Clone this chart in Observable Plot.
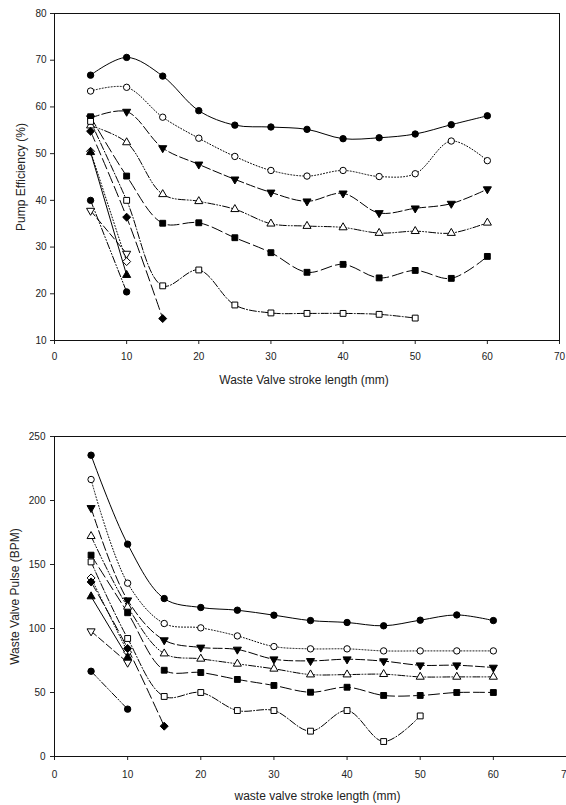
<!DOCTYPE html>
<html>
<head>
<meta charset="utf-8">
<script src="https://cdn.jsdelivr.net/npm/d3@7"></script>
<script src="https://cdn.jsdelivr.net/npm/@observablehq/plot@0.6"></script>
<style>
  html, body { margin: 0; padding: 0; background: #fff; }
  body { width: 566px; height: 805px; position: relative; overflow: hidden; font-family: "Liberation Sans", Arial, sans-serif; }
  #top, #bottom { position: absolute; left: 0; }
  #top { top: 0; }
  #bottom { top: 400px; }
</style>
</head>
<body>
<div id="top"></div>
<div id="bottom"></div>
<script>
// ---------- data ----------
const strokeLength = [5, 10, 15, 20, 25, 30, 35, 40, 45, 50, 55, 60];
const xTicks = [0, 10, 20, 30, 40, 50, 60, 70];
const effTicks = [10, 20, 30, 40, 50, 60, 70, 80];
const bpmTicks = [0, 50, 100, 150, 200, 250];

// Pump efficiency (%)
const effFilledCircle = [66.8, 70.6, 66.6, 59.2, 56.1, 55.7, 55.2, 53.2, 53.4, 54.2, 56.2, 58.1];
const effOpenCircle   = [63.4, 64.2, 57.8, 53.3, 49.4, 46.4, 45.2, 46.4, 45.1, 45.7, 52.7, 48.5];
const effFilledDown   = [57.6, 59.0, 51.2, 47.7, 44.5, 41.7, 39.8, 41.5, 37.3, 38.3, 39.3, 42.4];
const effOpenUp       = [56.0, 52.4, 41.3, 39.8, 38.1, 35.0, 34.5, 34.2, 33.0, 33.4, 33.0, 35.2];
const effFilledSquare = [57.9, 45.2, 35.1, 35.2, 32.0, 28.8, 24.6, 26.3, 23.4, 25.0, 23.3, 28.0];
const effOpenSquare   = [56.9, 40.0, 21.7, 25.1, 17.6, 15.9, 15.8, 15.8, 15.6, 14.8];
const effFilledCircle2 = [40.0, 20.4];
const effOpenDown      = [37.8, 28.6];
const effOpenDiamond   = [50.5, 26.9];
const effFilledUp      = [50.3, 24.0];
const effFilledDiamond = [54.8, 36.4, 14.7];

// Waste valve pulse (BPM)
const bpmFilledCircle = [235.4, 165.9, 123.4, 116.4, 114.3, 110.4, 106.2, 104.7, 102.1, 106.5, 110.6, 106.2];
const bpmOpenCircle   = [216.4, 135.4, 103.9, 100.5, 94.2, 85.9, 84.1, 84.1, 82.5, 82.5, 82.5, 82.5];
const bpmFilledDown   = [194.2, 122.1, 90.9, 85.2, 83.6, 76.0, 74.7, 76.0, 74.5, 71.3, 71.3, 69.5];
const bpmOpenUp       = [172.1, 116.9, 80.4, 76.3, 72.4, 68.5, 64.0, 64.0, 64.3, 62.2, 62.2, 62.2];
const bpmFilledSquare = [157.3, 112.3, 67.4, 65.6, 60.2, 55.5, 50.2, 54.1, 47.7, 47.7, 50.0, 50.0];
const bpmOpenSquare   = [152.0, 92.2, 46.9, 50.0, 35.9, 35.9, 19.8, 35.9, 11.7, 31.7];
const bpmFilledCircle2 = [66.6, 37.0];
const bpmOpenDown      = [97.9, 73.4];
const bpmFilledUp      = [125.0, 77.5];
const bpmOpenDiamond   = [139.5, 81.5];
const bpmFilledDiamond = [136.4, 84.4, 23.7];

// ---------- styles ----------
const S = {
  filledCircle:  {symbol: "circle",   fill: "#000", r: 3.2, rotate: 0,   dash: null},
  openCircle:    {symbol: "circle",   fill: "#fff", r: 3.2, rotate: 0,   dash: "1,2"},
  filledDown:    {symbol: "triangle", fill: "#000", r: 3.0, rotate: 180, dash: "9,3"},
  openUp:        {symbol: "triangle", fill: "#fff", r: 3.0, rotate: 0,   dash: "7,2,1,2,1,2"},
  filledSquare:  {symbol: "square",   fill: "#000", r: 3.3, rotate: 0,   dash: "11,4"},
  openSquare:    {symbol: "square",   fill: "#fff", r: 3.3, rotate: 0,   dash: "7,2,1,2"},
  filledCircle2: {symbol: "circle",   fill: "#000", r: 3.2, rotate: 0,   dash: "7,2,1,2,1,2"},
  openDown:      {symbol: "triangle", fill: "#fff", r: 3.0, rotate: 180, dash: "7,3"},
  openDiamond:   {symbol: "diamond2", fill: "#fff", r: 3.6, rotate: 0,   dash: "1,2"},
  filledUp:      {symbol: "triangle", fill: "#000", r: 3.0, rotate: 0,   dash: null},
  filledDiamond: {symbol: "diamond2", fill: "#000", r: 3.6, rotate: 0,   dash: "11,4"}
};

const effSeries = [
  ["filledCircle", effFilledCircle], ["openCircle", effOpenCircle], ["filledDown", effFilledDown],
  ["openUp", effOpenUp], ["filledSquare", effFilledSquare], ["openSquare", effOpenSquare],
  ["filledCircle2", effFilledCircle2], ["openDown", effOpenDown], ["openDiamond", effOpenDiamond],
  ["filledUp", effFilledUp], ["filledDiamond", effFilledDiamond]
];
const bpmSeries = [
  ["filledCircle", bpmFilledCircle], ["openCircle", bpmOpenCircle], ["filledDown", bpmFilledDown],
  ["openUp", bpmOpenUp], ["filledSquare", bpmFilledSquare], ["openSquare", bpmOpenSquare],
  ["filledCircle2", bpmFilledCircle2], ["openDown", bpmOpenDown], ["openDiamond", bpmOpenDiamond],
  ["filledUp", bpmFilledUp], ["filledDiamond", bpmFilledDiamond]
];

function seriesMarks(series) {
  const lines = [], dots = [];
  for (const [key, vals] of series) {
    const st = S[key];
    const data = vals.map((v, i) => ({x: strokeLength[i], y: v}));
    lines.push(Plot.line(data, {x: "x", y: "y", stroke: "#000", strokeWidth: 1,
      strokeDasharray: st.dash || undefined, curve: "catmull-rom"}));
    dots.push(Plot.dot(data, {x: "x", y: "y", symbol: st.symbol, r: st.r, fill: st.fill,
      stroke: "#000", strokeWidth: 1, rotate: st.rotate}));
  }
  return [...lines, ...dots];
}

const baseStyle = {fontFamily: "'Liberation Sans', Arial, sans-serif", fontSize: "10px",
  color: "#222", background: "transparent", overflow: "visible"};

const topChart = Plot.plot({
  width: 566, height: 395,
  marginTop: 13, marginBottom: 55, marginLeft: 54, marginRight: 7,
  style: baseStyle,
  x: {domain: [0, 70], ticks: xTicks, tickSize: 4, tickPadding: 8, label: null, tickFormat: d => String(d)},
  y: {domain: [10, 80], ticks: effTicks, tickSize: 4, tickPadding: 4, label: null, tickFormat: d => String(d)},
  marks: [
    Plot.frame({stroke: "#111", strokeWidth: 1}),
    ...seriesMarks(effSeries),
    Plot.text(["Waste Valve stroke length (mm)"], {frameAnchor: "bottom", dy: 40, dx: -3,
      fontSize: 12, fill: "#222", lineAnchor: "middle", textAnchor: "middle"}),
    Plot.text(["Pump Efficiency (%)"], {frameAnchor: "left", dx: -33, rotate: -90,
      fontSize: 12, fill: "#222", lineAnchor: "middle", textAnchor: "middle"})
  ]
});
document.getElementById("top").appendChild(topChart);

const bottomChart = Plot.plot({
  width: 566, height: 405,
  marginTop: 36, marginBottom: 49, marginLeft: 54, marginRight: 0,
  style: baseStyle,
  x: {domain: [0, 70], ticks: xTicks, tickSize: 4, tickPadding: 10, label: null, tickFormat: d => String(d)},
  y: {domain: [0, 250], ticks: bpmTicks, tickSize: 4, tickPadding: 5, label: null, tickFormat: d => String(d)},
  marks: [
    Plot.frame({stroke: "#111", strokeWidth: 1}),
    ...seriesMarks(bpmSeries),
    Plot.text(["waste valve stroke length (mm)"], {frameAnchor: "bottom", dy: 40, dx: 7,
      fontSize: 12, fill: "#222", lineAnchor: "middle", textAnchor: "middle"}),
    Plot.text(["Waste Valve Pulse (BPM)"], {frameAnchor: "left", dx: -39, rotate: -90,
      fontSize: 12, fill: "#222", lineAnchor: "middle", textAnchor: "middle"})
  ]
});
document.getElementById("bottom").appendChild(bottomChart);
</script>
</body>
</html>
